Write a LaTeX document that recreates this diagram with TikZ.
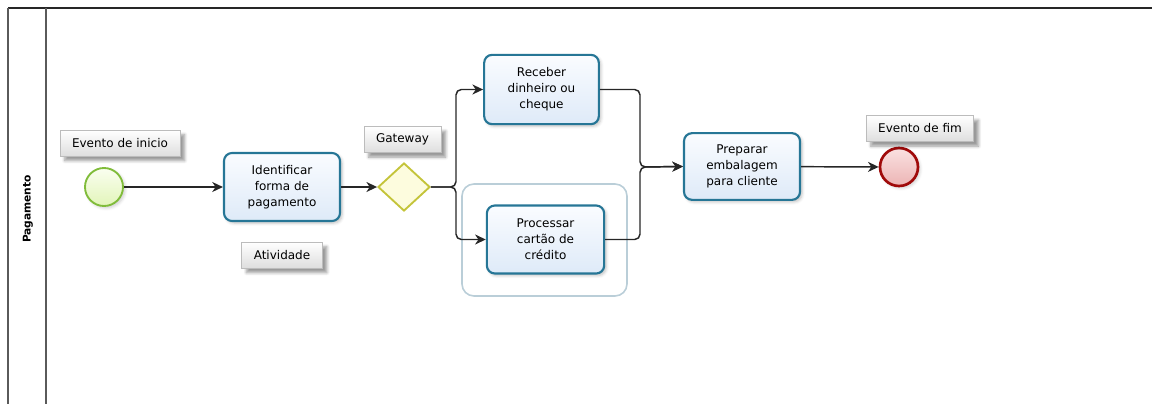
\documentclass[tikz,border=0pt]{standalone}
\usepackage{fontspec}
\setmainfont{DejaVu Sans}
\usetikzlibrary{arrows.meta,shapes.geometric,shadows.blur}

\definecolor{taskline}{RGB}{38,118,150}
\definecolor{taskfillA}{RGB}{250,252,255}
\definecolor{taskfillB}{RGB}{222,234,248}
\definecolor{startline}{RGB}{128,188,58}
\definecolor{startfillA}{RGB}{250,254,240}
\definecolor{startfillB}{RGB}{226,245,185}
\definecolor{gwline}{RGB}{196,196,58}
\definecolor{gwfill}{RGB}{253,252,222}
\definecolor{endline}{RGB}{160,10,10}
\definecolor{endfillA}{RGB}{250,225,225}
\definecolor{endfillB}{RGB}{236,180,180}
\definecolor{grpline}{RGB}{186,206,216}
\definecolor{tagline}{RGB}{188,188,188}
\definecolor{tagfillB}{RGB}{222,222,222}
\definecolor{laneline}{RGB}{90,90,90}

\tikzset{
  every node/.style={font=\fontsize{9}{12}\selectfont, align=center},
  taskbox/.style={rectangle, rounded corners=6pt, draw=taskline, line width=1.6pt,
    top color=taskfillA, bottom color=taskfillB, inner sep=2pt,
    blur shadow={shadow xshift=1.5pt, shadow yshift=-1.5pt, shadow opacity=25, shadow blur steps=4}},
  startev/.style={circle, draw=startline, line width=1.4pt, inner sep=0pt,
    minimum size=28.5pt, top color=startfillA, bottom color=startfillB,
    blur shadow={shadow xshift=1.5pt, shadow yshift=-1.5pt, shadow opacity=20, shadow blur steps=4}},
  endev/.style={circle, draw=endline, line width=2pt, inner sep=0pt,
    minimum size=28.5pt, top color=endfillA, bottom color=endfillB,
    blur shadow={shadow xshift=1.5pt, shadow yshift=-1.5pt, shadow opacity=20, shadow blur steps=4}},
  gate/.style={diamond, draw=gwline, line width=1.4pt, fill=gwfill, inner sep=0pt,
    minimum width=39pt, minimum height=36pt},
  tag/.style={rectangle, draw=tagline, line width=0.5pt, top color=white,
    bottom color=tagfillB, minimum height=19.5pt, inner xsep=9pt, inner ysep=2pt,
    blur shadow={shadow xshift=3.5pt, shadow yshift=-3.5pt, shadow opacity=40, shadow blur steps=6}},
  groupbox/.style={draw=grpline, line width=1.2pt, rounded corners=9pt},
  flow/.style={draw=black!85, line width=1.1pt, rounded corners=4pt,
    -{Stealth[length=8pt,width=7.5pt,inset=2.5pt]}},
  lane/.style={draw=laneline, line width=1.3pt},
}

\begin{document}
\begin{tikzpicture}[x=0.75pt, y=-0.75pt]
\useasboundingbox (0,0) rectangle (1152,404);

% pool and lane borders
\draw[black!85, line width=1.6pt] (8,8) -- (1152,8);
\draw[lane] (8,8) -- (8,404);
\draw[lane] (46,8) -- (46,404);
\node[rotate=90, font=\bfseries\fontsize{8}{10}\selectfont] (lanename) at (28,209) {Pagamento};

% group around the credit card task
\draw[groupbox] (462,184) rectangle (627,296);

% flow objects
\node[startev] (start) at (104,187) {};
\node[taskbox, minimum width=87pt, minimum height=51pt] (ident) at (282,187)
  {Identificar\\forma de\\pagamento};
\node[gate] (gw) at (404,187) {};
\node[taskbox, minimum width=86pt, minimum height=52pt] (cash) at (541.5,89.5)
  {Receber\\dinheiro ou\\cheque};
\node[taskbox, minimum width=88pt, minimum height=51pt] (card) at (545.5,239.5)
  {Processar\\cartão de\\crédito};
\node[taskbox, minimum width=87pt, minimum height=50pt] (pack) at (742,166.5)
  {Preparar\\embalagem\\para cliente};
\node[endev] (stop) at (899,167) {};

% annotations
\node[tag] (tagstart) at (120,143) {Evento de inicio};
\node[tag] (tagact) at (282,255) {Atividade};
\node[tag] (taggw) at (402.5,139.5) {Gateway};
\node[tag] (tagend) at (920,128.5) {Evento de fim};

% sequence flows
\coordinate (split) at (456,187);
\coordinate (join) at (640,167);
\draw[flow] (start) -- (ident);
\draw[flow] (ident) -- (gw);
\draw[flow] (gw.east) -- (split) |- (cash.west);
\draw[flow] (gw.east) -- (split) |- (card.west);
\draw[flow] (cash.east) -| (join) -- (pack.west);
\draw[flow] (card.east) -| (join) -- (pack.west);
\draw[flow] (pack) -- (stop);
\end{tikzpicture}
\end{document}
